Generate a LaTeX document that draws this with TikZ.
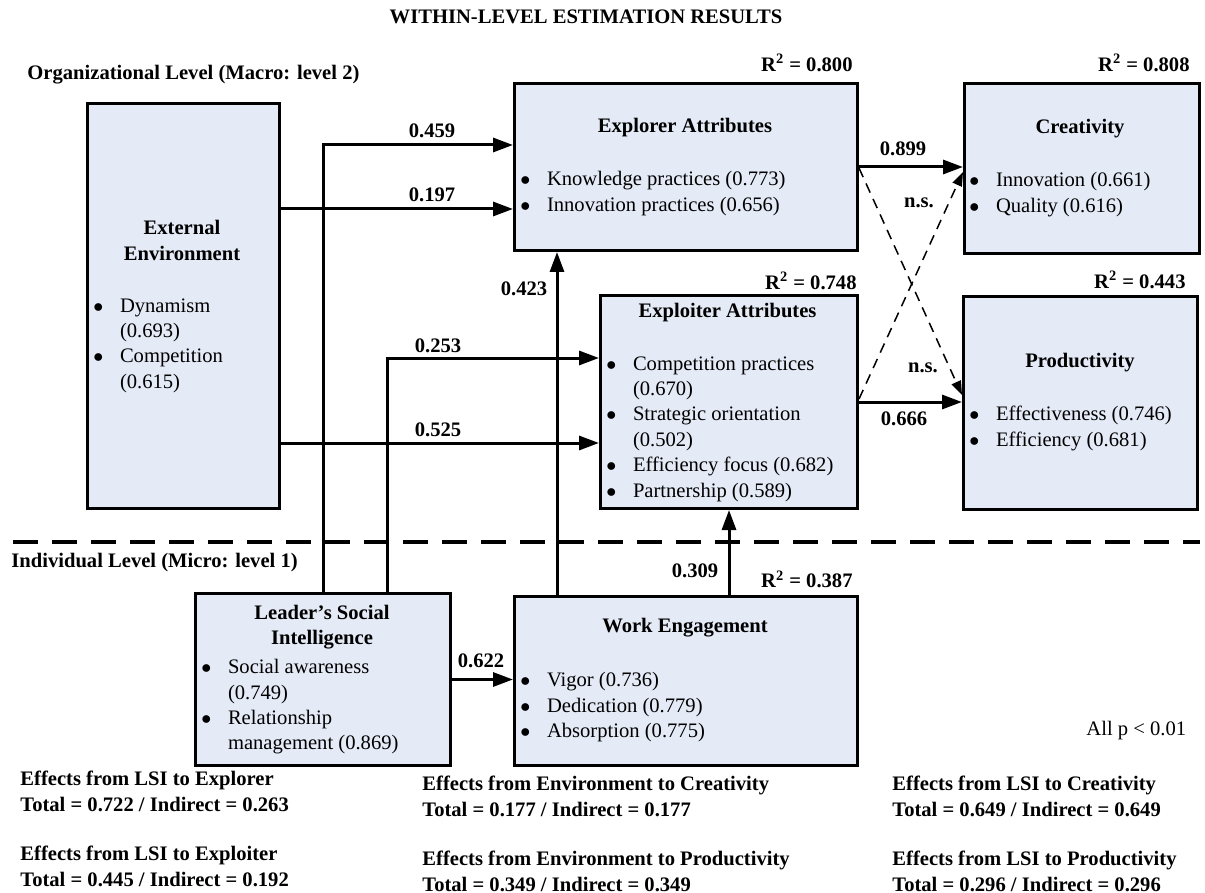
\documentclass[tikz,border=0pt]{standalone}
\usepackage{fontspec}
\setmainfont{Liberation Serif}
\usetikzlibrary{arrows.meta,calc}
\definecolor{boxfill}{RGB}{228,234,246}
\newcommand{\blt}{\makebox[13.3pt][l]{$\bullet$}}
\newcommand{\ind}{\hspace*{13.3pt}}
\begin{document}
\begin{tikzpicture}[x=0.5pt,y=-0.5pt,font=\fontsize{10.3}{12.7}\selectfont,
  blk/.style={draw,line width=1.5pt,fill=boxfill,inner sep=0pt,anchor=north west},
  lnk/.style={line width=1.5pt,-{Triangle[length=10pt,width=7pt]}},
  nsarr/.style={line width=0.75pt,dash pattern=on 5pt off 3.5pt,-{Triangle[length=7pt,width=5pt]}},
  lbl/.style={inner sep=0pt,font=\fontsize{10.3}{12.7}\selectfont\bfseries},
  lst/.style={anchor=north west,inner sep=0pt,align=left}]
  \useasboundingbox (0,0) rectangle (1205,893);
  \node[lbl] (ttl) at (586,17) {WITHIN-LEVEL ESTIMATION RESULTS};
  \node[lbl,anchor=west] (orglvl) at (27,75) {Organizational Level (Macro: level 2)};
  \node[lbl,anchor=west] (indlvl) at (11,563) {Individual Level (Micro: level 1)};
  % boxes
  \node[blk,minimum width=96pt,minimum height=202.5pt] (ext) at (86,102) {};
  \node[blk,minimum width=171.5pt,minimum height=83.5pt] (expl) at (513,82) {};
  \node[blk,minimum width=117.5pt,minimum height=85pt] (crea) at (963,82) {};
  \node[blk,minimum width=128.5pt,minimum height=106.5pt] (expo) at (599,294) {};
  \node[blk,minimum width=117pt,minimum height=106.5pt] (prod) at (962,295) {};
  \node[blk,minimum width=127.5pt,minimum height=86pt] (lsi) at (194,592) {};
  \node[blk,minimum width=171.5pt,minimum height=84.5pt] (we) at (513,595) {};
  % box texts
  \node[lbl,align=center] (extT) at (182,240.5) {External\\Environment};
  \node[lst] (extL) at (93,298) {\blt Dynamism\\\ind(0.693)\\\blt Competition\\\ind(0.615)};
  \node[lbl] (explT) at (685,128) {Explorer Attributes};
  \node[lst] (explL) at (520,171) {\blt Knowledge practices (0.773)\\\blt Innovation practices (0.656)};
  \node[lbl] (creaT) at (1080,129) {Creativity};
  \node[lst] (creaL) at (969,172) {\blt Innovation (0.661)\\\blt Quality (0.616)};
  \node[lbl] (expoT) at (727.5,313) {Exploiter Attributes};
  \node[lst] (expoL) at (606,356) {\blt Competition practices\\\ind(0.670)\\\blt Strategic orientation\\\ind(0.502)\\\blt Efficiency focus (0.682)\\\blt Partnership (0.589)};
  \node[lbl] (prodT) at (1080,363) {Productivity};
  \node[lst] (prodL) at (969,406) {\blt Effectiveness (0.746)\\\blt Efficiency (0.681)};
  \node[lbl,align=center] (lsiT) at (322,627) {Leader’s Social\\Intelligence};
  \node[lst] (lsiL) at (201,659) {\blt Social awareness\\\ind(0.749)\\\blt Relationship\\\ind management (0.869)};
  \node[lbl] (weT) at (685,628) {Work Engagement};
  \node[lst] (weL) at (520,672) {\blt Vigor (0.736)\\\blt Dedication (0.779)\\\blt Absorption (0.775)};
  % R squared
  \node[lbl,anchor=east] (r2expl) at (853,63) {R\textsuperscript{2} = 0.800};
  \node[lbl,anchor=east] (r2crea) at (1190,63) {R\textsuperscript{2} = 0.808};
  \node[lbl,anchor=east] (r2expo) at (857,281) {R\textsuperscript{2} = 0.748};
  \node[lbl,anchor=east] (r2prod) at (1186,280) {R\textsuperscript{2} = 0.443};
  \node[lbl,anchor=east] (r2we) at (853,579) {R\textsuperscript{2} = 0.387};
  % level divider
  \draw[line width=2pt,dash pattern=on 12.5pt off 7pt] (13,542) -- (1200,542);
  % paths
  \draw[lnk] (lsi.north) |- (expl.west |- 0,145);
  \draw[lnk] (ext.east |- 0,209) -- (expl.west |- 0,209);
  \draw[lnk] ($(lsi.north)+(64,0)$) |- (expo.west |- 0,358);
  \draw[lnk] (ext.east |- 0,443) -- (expo.west |- 0,443);
  \draw[lnk] ($(we.north west)+(44,0)$) -- ($(expl.south west)+(44,0)$);
  \draw[lnk] (we.north -| expo.south) -- (expo.south);
  \draw[lnk] (lsi.east) -- (lsi.east -| we.west);
  \draw[lnk] (expl.east |- 0,167) -- (crea.west |- 0,167);
  \draw[lnk] (expo.east) -- (expo.east -| prod.west);
  \draw[nsarr] (expl.east |- 0,168) -- (prod.west |- 0,395);
  \draw[nsarr] (expo.east |- 0,399) -- (crea.west |- 0,172);
  % coefficients
  \node[lbl] (c459) at (432,131) {0.459};
  \node[lbl] (c197) at (432,195) {0.197};
  \node[lbl] (c253) at (438,346) {0.253};
  \node[lbl] (c525) at (438,430) {0.525};
  \node[lbl] (c423) at (524,289) {0.423};
  \node[lbl] (c899) at (903,149) {0.899};
  \node[lbl] (ns1) at (919,203) {n.s.};
  \node[lbl] (ns2) at (923,368) {n.s.};
  \node[lbl] (c666) at (904,419) {0.666};
  \node[lbl] (c622) at (481,661) {0.622};
  \node[lbl] (c309) at (695,571) {0.309};
  \node[anchor=west,inner sep=0pt] (pval) at (1086,731) {All p < 0.01};
  % effects
  \node[lst,font=\fontsize{10.3}{12.7}\selectfont\bfseries] (ef1) at (20,771) {Effects from LSI to Explorer\\Total = 0.722 / Indirect = 0.263};
  \node[lst,font=\fontsize{10.3}{12.7}\selectfont\bfseries] (ef2) at (20,846) {Effects from LSI to Exploiter\\Total = 0.445 / Indirect = 0.192};
  \node[lst,font=\fontsize{10.3}{12.7}\selectfont\bfseries] (ef3) at (422,776) {Effects from Environment to Creativity\\Total = 0.177 / Indirect = 0.177};
  \node[lst,font=\fontsize{10.3}{12.7}\selectfont\bfseries] (ef4) at (422,851) {Effects from Environment to Productivity\\Total = 0.349 / Indirect = 0.349};
  \node[lst,font=\fontsize{10.3}{12.7}\selectfont\bfseries] (ef5) at (892,776) {Effects from LSI to Creativity\\Total = 0.649 / Indirect = 0.649};
  \node[lst,font=\fontsize{10.3}{12.7}\selectfont\bfseries] (ef6) at (892,851) {Effects from LSI to Productivity\\Total = 0.296 / Indirect = 0.296};
\end{tikzpicture}
\end{document}
